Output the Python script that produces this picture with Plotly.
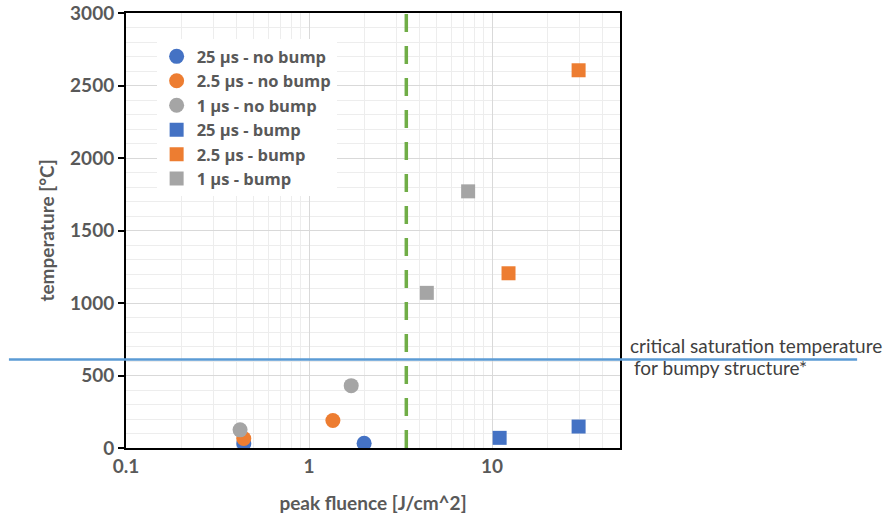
import plotly.graph_objects as go
import math

# ---- data ----
series_names = ["25 µs - no bump", "2.5 µs - no bump", "1 µs - no bump",
                "25 µs - bump", "2.5 µs - bump", "1 µs - bump"]
fluence_25_nobump = [0.44, 2.0]
temp_25_nobump = [30, 32]
fluence_2p5_nobump = [0.44, 1.35]
temp_2p5_nobump = [65, 190]
fluence_1_nobump = [0.42, 1.70]
temp_1_nobump = [125, 430]
fluence_25_bump = [11.0, 29.7]
temp_25_bump = [70, 148]
fluence_2p5_bump = [29.7, 12.3]
temp_2p5_bump = [2605, 1205]
fluence_1_bump = [4.4, 7.4]
temp_1_bump = [1070, 1770]

threshold_fluence = 3.4
critical_temp = 610
y_ticks = [0, 500, 1000, 1500, 2000, 2500, 3000]
x_tick_vals = [0.1, 1, 10]
x_tick_text = ["0.1", "1", "10"]

BLUE = "#4472C4"
ORANGE = "#ED7D31"
GREY = "#A5A5A5"
FONT = "Lato"
TXT = "#595959"
FS = 19

fig = go.Figure()
series = [
    (fluence_25_nobump, temp_25_nobump, BLUE, "circle"),
    (fluence_2p5_nobump, temp_2p5_nobump, ORANGE, "circle"),
    (fluence_1_nobump, temp_1_nobump, GREY, "circle"),
    (fluence_25_bump, temp_25_bump, BLUE, "square"),
    (fluence_2p5_bump, temp_2p5_bump, ORANGE, "square"),
    (fluence_1_bump, temp_1_bump, GREY, "square"),
]
# threshold line (green dashed)
fig.add_trace(go.Scatter(x=[threshold_fluence, threshold_fluence], y=[0, 3000],
                         mode="lines", showlegend=False, hoverinfo="skip",
                         line=dict(color="#70AD47", width=3.5, dash="18px,14px")))
for name, (xs, ys, col, sym) in zip(series_names, series):
    fig.add_trace(go.Scatter(x=xs, y=ys, mode="markers", name=name,
                             marker=dict(color=col, symbol=sym, size=15 if sym == "circle" else 14,
                                         line=dict(width=0))))

fig.add_shape(type="line", xref="paper", yref="y", x0=-0.237, x1=1.48,
              y0=critical_temp, y1=critical_temp,
              line=dict(color="#5B9BD5", width=2.5))

fig.add_annotation(xref="paper", yref="paper", x=1.016, y=0.2345, xanchor="left", yanchor="middle",
                   text="critical saturation temperature", showarrow=False,
                   font=dict(family=FONT, size=FS, color="#404040"))
fig.add_annotation(xref="paper", yref="paper", x=1.024, y=0.184, xanchor="left", yanchor="middle",
                   text="for bumpy structure*", showarrow=False,
                   font=dict(family=FONT, size=FS, color="#404040"))

fig.update_layout(
    width=884, height=516,
    margin=dict(l=126, r=264, t=13, b=68, autoexpand=False),
    paper_bgcolor="white", plot_bgcolor="white",
    font=dict(family=FONT, color=TXT),
    legend=dict(x=0.062, y=0.94, xanchor="left", yanchor="top",
                bgcolor="white", borderwidth=0,
                font=dict(family="Open Sans", size=16.5, color=TXT, weight="bold"),
                itemwidth=30, tracegroupgap=0),
    showlegend=True,
)
fig.update_xaxes(type="log", range=[-1, math.log10(50)],
                 tickvals=x_tick_vals, ticktext=x_tick_text,
                 tickfont=dict(family=FONT, size=FS, color=TXT, weight="bold"),
                 showgrid=True, gridcolor="#D9D9D9", gridwidth=1,
                 minor=dict(tickvals=[0.2,0.3,0.4,0.5,0.6,0.7,0.8,0.9,2,3,4,5,6,7,8,9,20,30,40],
                            showgrid=True, gridcolor="#EDEDED", gridwidth=1),
                 showline=True, linecolor="black", linewidth=2, mirror=True,
                 ticks="", zeroline=False, automargin=False,
                 title=dict(text="peak fluence [J/cm^2]", standoff=21,
                            font=dict(family=FONT, size=FS, color=TXT, weight="bold")))
fig.update_yaxes(range=[0, 3000], tickvals=y_ticks,
                 tickfont=dict(family=FONT, size=FS, color=TXT, weight="bold"),
                 showgrid=True, gridcolor="#D9D9D9", gridwidth=1,
                 minor=dict(dtick=100, showgrid=True, gridcolor="#EDEDED", gridwidth=1),
                 showline=True, linecolor="black", linewidth=2, mirror=True,
                 ticks="outside", ticklen=6, tickcolor="black", tickwidth=1.5,
                 zeroline=False, automargin=False,
                 title=dict(text="temperature [°C]", standoff=10,
                            font=dict(family=FONT, size=FS, color=TXT, weight="bold")))

fig.write_html("out.html")
